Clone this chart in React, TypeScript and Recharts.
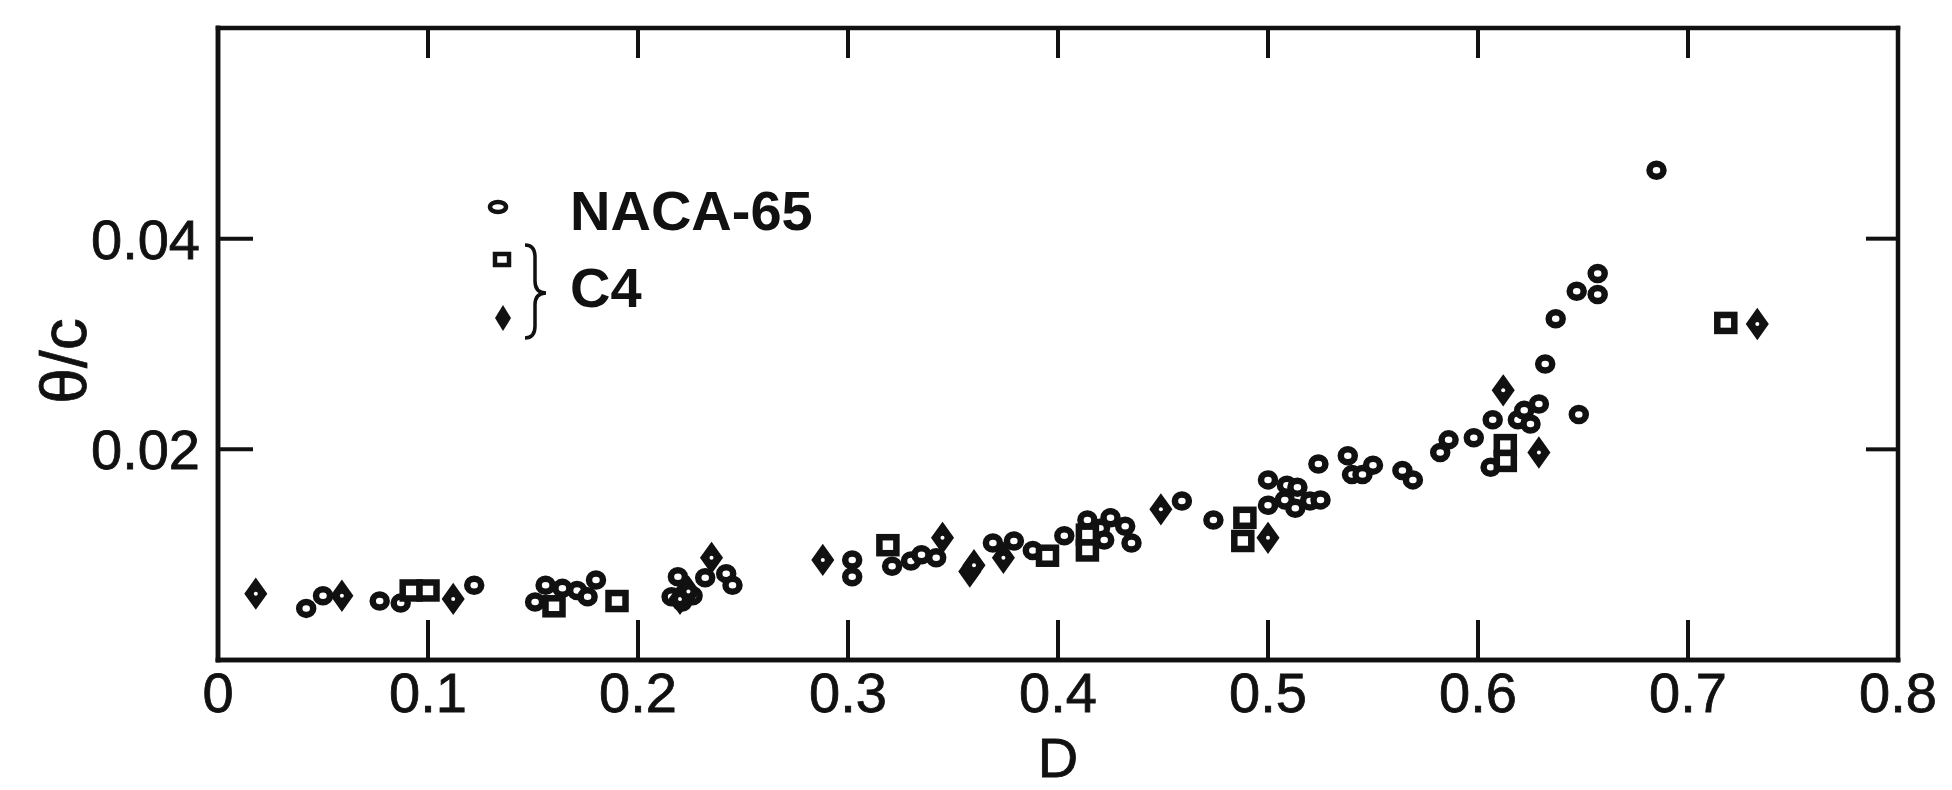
import { ScatterChart, Scatter, XAxis, YAxis, Legend } from "recharts";

// [D, theta/c]
const naca65: [number, number][] = [
  [0.042, 0.0049], [0.05, 0.0061], [0.077, 0.0056], [0.087, 0.0054], [0.122, 0.0071],
  [0.151, 0.0055], [0.156, 0.0071], [0.164, 0.0068], [0.171, 0.0066], [0.176, 0.006],
  [0.18, 0.0076], [0.216, 0.006], [0.219, 0.0079], [0.221, 0.0055], [0.226, 0.0061],
  [0.232, 0.0078], [0.242, 0.0082], [0.245, 0.0071], [0.302, 0.0095], [0.302, 0.0079],
  [0.321, 0.0089], [0.33, 0.0094], [0.335, 0.01], [0.342, 0.0097], [0.369, 0.0111],
  [0.379, 0.0113], [0.388, 0.0104], [0.403, 0.0118], [0.414, 0.0133], [0.42, 0.0125],
  [0.425, 0.0135], [0.422, 0.0114], [0.432, 0.0127], [0.435, 0.0111], [0.459, 0.0151],
  [0.474, 0.0133], [0.5, 0.0147], [0.5, 0.0171], [0.508, 0.0152], [0.509, 0.0166],
  [0.513, 0.0144], [0.514, 0.0164], [0.52, 0.0151], [0.525, 0.0152], [0.524, 0.0186],
  [0.538, 0.0194], [0.54, 0.0176], [0.545, 0.0176], [0.55, 0.0185], [0.564, 0.018],
  [0.569, 0.0171], [0.582, 0.0197], [0.586, 0.0209], [0.598, 0.0211], [0.606, 0.0183],
  [0.607, 0.0228], [0.619, 0.0228], [0.622, 0.0237], [0.625, 0.0224], [0.629, 0.0243],
  [0.632, 0.0281], [0.637, 0.0324], [0.647, 0.035], [0.648, 0.0233], [0.657, 0.0347],
  [0.657, 0.0367], [0.685, 0.0465],
];

const c4Squares: [number, number][] = [
  [0.092, 0.0066], [0.1, 0.0066], [0.16, 0.0051], [0.19, 0.0056], [0.319, 0.0109],
  [0.395, 0.0099], [0.414, 0.0119], [0.414, 0.0104], [0.489, 0.0135], [0.488, 0.0113],
  [0.613, 0.0204], [0.613, 0.0189], [0.718, 0.032],
];

const c4Diamonds: [number, number][] = [
  [0.018, 0.0063], [0.059, 0.0061], [0.112, 0.0058], [0.22, 0.0058], [0.224, 0.0065],
  [0.235, 0.0097], [0.288, 0.0095], [0.345, 0.0116], [0.358, 0.0084], [0.36, 0.009],
  [0.374, 0.0097], [0.449, 0.0143], [0.5, 0.0116], [0.612, 0.0256], [0.629, 0.0197],
  [0.733, 0.0319],
];

const xTicks = [0, 0.1, 0.2, 0.3, 0.4, 0.5, 0.6, 0.7, 0.8];
const xTickLabels = ["0", "0.1", "0.2", "0.3", "0.4", "0.5", "0.6", "0.7", "0.8"];
const xInnerTicks = [0.1, 0.2, 0.3, 0.4, 0.5, 0.6, 0.7];
const yTicks = [0.02, 0.04];
const yTickLabels = ["0.02", "0.04"];

const FONT = "'Liberation Sans', Arial, Helvetica, sans-serif";
const INK = "#111";

const toPoints = (arr: [number, number][]) => arr.map(([d, t]) => ({ d, t }));

const CircleMark = (p: any) => (
  <ellipse cx={p.cx} cy={p.cy} rx={7} ry={6.5} fill="#fff" stroke={INK} strokeWidth={6.5} />
);
const SquareMark = (p: any) => (
  <rect x={p.cx - 8.5} y={p.cy - 8} width={17} height={16} fill="#fff" stroke={INK} strokeWidth={6.5} />
);
const DiamondMark = (p: any) => (
  <g>
    <path
      d={`M${p.cx},${p.cy - 14} L${p.cx + 10},${p.cy} L${p.cx},${p.cy + 14} L${p.cx - 10},${p.cy} Z`}
      fill={INK}
      stroke={INK}
      strokeWidth={2.5}
    />
    <circle cx={p.cx} cy={p.cy} r={2} fill="#fff" />
  </g>
);

const XLabel = (p: any) => {
  const vb = p.viewBox;
  return (
    <text x={vb.x + vb.width / 2} y={vb.y + 117} textAnchor="middle" fontSize={56} fontFamily={FONT} fill={INK} stroke={INK} strokeWidth={0.8}>
      D
    </text>
  );
};

const YLabel = (p: any) => {
  const vb = p.viewBox;
  const x = vb.x + 86;
  const y = vb.y + vb.height / 2 + 17;
  return (
    <text x={x} y={y} transform={`rotate(-90, ${x}, ${y})`} textAnchor="middle" fontSize={64} fontFamily={FONT} fill={INK} stroke={INK} strokeWidth={0.8}>
      θ/c
    </text>
  );
};

const LegendBox = () => (
  <svg width={400} height={200}>
    <ellipse cx={38} cy={37} rx={8} ry={5} fill="#fff" stroke={INK} strokeWidth={4.5} />
    <text x={110} y={60} fontSize={56} fontWeight="bold" fontFamily={FONT} fill={INK}>
      NACA-65
    </text>
    <rect x={35} y={84} width={14} height={11} fill="#fff" stroke={INK} strokeWidth={4.5} />
    <path d="M43,135 L51,148 L43,161 L35,148 Z" fill={INK} />
    <path
      d="M65,75 Q75,75 75,87 L75,111 Q75,123 86,123 Q75,123 75,135 L75,156 Q75,168 65,168"
      fill="none"
      stroke={INK}
      strokeWidth={3.5}
    />
    <text x={110} y={137} fontSize={56} fontWeight="bold" fontFamily={FONT} fill={INK}>
      C4
    </text>
  </svg>
);

const axisLine = { stroke: INK, strokeWidth: 4.5, strokeLinecap: "square" as const };
const tickLine = { stroke: INK, strokeWidth: 4 };
const tickText = { fontSize: 56, fontFamily: FONT, fill: INK, stroke: INK, strokeWidth: 0.8 };
const blank = () => "";

export default function App() {
  return (
    <div style={{ position: "absolute", left: 0, top: 0, background: "#fff" }}>
      <ScatterChart width={1952} height={790} margin={{ top: 28, right: 54, bottom: 0, left: 0 }}>
        {/* inward tick marks on the bottom edge */}
        <XAxis
          xAxisId="bottomTicks"
          dataKey="d"
          type="number"
          domain={[0, 0.8]}
          ticks={xInnerTicks}
          interval={0}
          mirror
          height={40}
          tickSize={40}
          tickLine={tickLine}
          axisLine={axisLine}
          tickFormatter={blank}
        />
        <XAxis
          dataKey="d"
          type="number"
          domain={[0, 0.8]}
          ticks={xTicks}
          interval={0}
          height={130}
          tickSize={6}
          tickMargin={6}
          tickLine={false}
          axisLine={axisLine}
          tick={tickText}
          tickFormatter={(v: number) => xTickLabels[xTicks.indexOf(v)]}
          label={(p: any) => <XLabel {...p} />}
        />
        <XAxis
          xAxisId="top"
          dataKey="d"
          orientation="top"
          type="number"
          domain={[0, 0.8]}
          ticks={xInnerTicks}
          interval={0}
          mirror
          height={30}
          tickSize={30}
          tickLine={tickLine}
          axisLine={axisLine}
          tickFormatter={blank}
        />
        {/* inward tick marks on the left edge */}
        <YAxis
          yAxisId="leftTicks"
          dataKey="t"
          type="number"
          domain={[0, 0.06]}
          ticks={yTicks}
          interval={0}
          mirror
          width={35}
          tickSize={35}
          tickLine={tickLine}
          axisLine={axisLine}
          tickFormatter={blank}
        />
        <YAxis
          dataKey="t"
          type="number"
          domain={[0, 0.06]}
          ticks={yTicks}
          interval={0}
          width={218}
          tickSize={6}
          tickMargin={12}
          tickLine={false}
          axisLine={axisLine}
          tick={tickText}
          tickFormatter={(v: number) => yTickLabels[yTicks.indexOf(v)]}
          label={(p: any) => <YLabel {...p} />}
        />
        <YAxis
          yAxisId="right"
          dataKey="t"
          orientation="right"
          type="number"
          domain={[0, 0.06]}
          ticks={yTicks}
          interval={0}
          mirror
          width={32}
          tickSize={32}
          tickLine={tickLine}
          axisLine={axisLine}
          tickFormatter={blank}
        />
        <Legend
          layout="vertical"
          align="center"
          verticalAlign="middle"
          content={() => <LegendBox />}
          wrapperStyle={{ left: 460, top: 170, width: 400, height: 200 }}
        />
        <Scatter name="NACA-65" data={toPoints(naca65)} shape={(p: any) => <CircleMark {...p} />} isAnimationActive={false} />
        <Scatter
          name="C4 square"
          xAxisId="bottomTicks"
          yAxisId="leftTicks"
          data={toPoints(c4Squares)}
          shape={(p: any) => <SquareMark {...p} />}
          isAnimationActive={false}
        />
        <Scatter
          name="C4 diamond"
          xAxisId="top"
          yAxisId="right"
          data={toPoints(c4Diamonds)}
          shape={(p: any) => <DiamondMark {...p} />}
          isAnimationActive={false}
        />
      </ScatterChart>
    </div>
  );
}
